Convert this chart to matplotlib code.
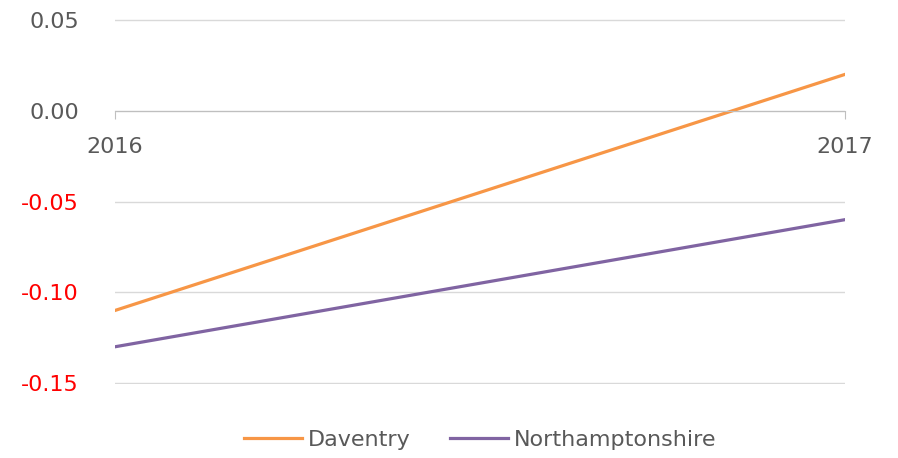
import matplotlib.pyplot as plt

years = ["2016", "2017"]
daventry = [-0.11, 0.02]
northamptonshire = [-0.13, -0.06]
y_ticks = [-0.15, -0.10, -0.05, 0.00, 0.05]

orange = "#F79646"
purple = "#8064A2"
label_gray = "#595959"

fig = plt.figure(figsize=(8.98, 4.58), dpi=100)
ax = fig.add_axes([115 / 898, (458 - 384) / 458, 730 / 898, 365 / 458])

x = list(range(len(years)))
ax.plot(x, daventry, color=orange, linewidth=2.3, label="Daventry")
ax.plot(x, northamptonshire, color=purple, linewidth=2.3, label="Northamptonshire")

ax.set_xlim(0, 1)
ax.set_ylim(-0.1505, 0.0505)
ax.set_yticks(y_ticks)
ax.set_yticklabels([f"{v:.2f}" for v in y_ticks])
for lbl, v in zip(ax.get_yticklabels(), y_ticks):
    lbl.set_color("red" if v < 0 else label_gray)
ax.tick_params(axis="y", length=0, pad=26, labelsize=16)
ax.yaxis.grid(True, color="#D9D9D9", linewidth=1)
ax.set_axisbelow(True)

ax.set_xticks(x)
ax.set_xticklabels(years)
ax.tick_params(axis="x", direction="out", length=6, color="#BFBFBF",
               pad=13, labelsize=16, labelcolor=label_gray)

for side in ["left", "right", "top"]:
    ax.spines[side].set_visible(False)
ax.spines["bottom"].set_position(("data", 0))
ax.spines["bottom"].set_color("#BFBFBF")

# legend sits below the plot, roughly centred under it
ax.legend(loc="upper center", bbox_to_anchor=(0.5, -0.07), ncol=2,
          frameon=False, fontsize=16, labelcolor=label_gray,
          handlelength=2.6, columnspacing=1.8, handletextpad=0.25)

fig.savefig("out.png", dpi=100)
